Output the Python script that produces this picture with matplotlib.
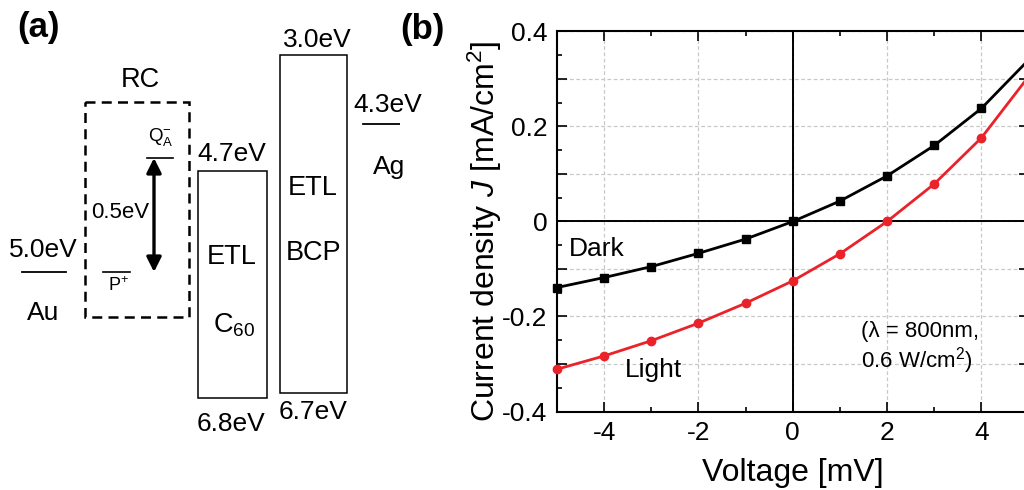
import numpy as np
import matplotlib
matplotlib.use('Agg')
import matplotlib.pyplot as plt
from matplotlib.patches import Rectangle
from matplotlib.ticker import MultipleLocator, FuncFormatter

plt.rcParams['font.family'] = ['Liberation Sans', 'DejaVu Sans']
plt.rcParams['mathtext.fontset'] = 'custom'
plt.rcParams['mathtext.rm'] = 'Liberation Sans'
plt.rcParams['mathtext.it'] = 'Liberation Sans:italic'
plt.rcParams['axes.unicode_minus'] = False

# ---- data: panel (b) J-V curves ----
voltage = [-5, -4, -3, -2, -1, 0, 1, 2, 3, 4, 5]
j_dark = [-0.139, -0.118, -0.095, -0.067, -0.037, 0.0, 0.043, 0.096, 0.160, 0.238, 0.340]
j_light = [-0.311, -0.283, -0.251, -0.214, -0.172, -0.125, -0.068, 0.0, 0.079, 0.176, 0.305]

# ---- data: panel (a) energy diagram labels ----
au_labels = ['5.0eV', 'Au']
ag_labels = ['4.3eV', 'Ag']
c60_labels = ['4.7eV', 'ETL', 'C$_{60}$', '6.8eV']
bcp_labels = ['3.0eV', 'ETL', 'BCP', '6.7eV']
rc_labels = ['RC', r'Q$_\mathrm{A}^{\mathrm{-}}$', r'P$^\mathrm{+}$', '0.5eV']

fig = plt.figure(figsize=(10.24, 4.9), dpi=100)

# ---------- (a) schematic, drawn in pixel units ----------
axa = fig.add_axes([0, 0, 400 / 1024, 1])
axa.set_xlim(0, 400)
axa.set_ylim(490, 0)
axa.axis('off')

fig.text(17 / 1024, 1 - 28 / 490, '(a)', fontsize=25, fontweight='bold', va='center', ha='left')

# Au electrode
axa.plot([22, 66], [272, 272], color='k', lw=1.3)
axa.text(43, 250, au_labels[0], fontsize=19, ha='center', va='center')
axa.text(43, 313, au_labels[1], fontsize=19, ha='center', va='center')

# reaction centre (dashed box)
axa.add_patch(Rectangle((85, 102), 104, 215, fill=False, ec='k', lw=1.8,
                        linestyle=(0, (4, 2.5))))
axa.text(140, 80, rc_labels[0], fontsize=19.5, ha='center', va='center')
axa.plot([147, 173], [158, 158], color='k', lw=1.2)
axa.text(161, 137, rc_labels[1], fontsize=13.5, ha='center', va='center')
axa.plot([103, 130], [272, 272], color='k', lw=1.2)
axa.text(118, 286, rc_labels[2], fontsize=13, ha='center', va='center')
axa.annotate('', xy=(154, 158), xytext=(154, 272),
             arrowprops=dict(arrowstyle='<|-|>', color='k', lw=2.4,
                             mutation_scale=22, shrinkA=0, shrinkB=0))
axa.text(120, 212, rc_labels[3], fontsize=16, ha='center', va='center')

# C60 ETL
axa.add_patch(Rectangle((198, 171), 69, 227, fill=False, ec='k', lw=1.1))
axa.text(232, 154, c60_labels[0], fontsize=19, ha='center', va='center')
axa.text(232, 257, c60_labels[1], fontsize=19.5, ha='center', va='center')
axa.text(234, 325, c60_labels[2], fontsize=19.5, ha='center', va='center')
axa.text(231, 424, c60_labels[3], fontsize=19, ha='center', va='center')

# BCP ETL
axa.add_patch(Rectangle((280, 55), 67, 338, fill=False, ec='k', lw=1.1))
axa.text(317, 40, bcp_labels[0], fontsize=19, ha='center', va='center')
axa.text(313, 188, bcp_labels[1], fontsize=19.5, ha='center', va='center')
axa.text(313, 253, bcp_labels[2], fontsize=19.5, ha='center', va='center')
axa.text(313, 412, bcp_labels[3], fontsize=19, ha='center', va='center')

# Ag electrode
axa.plot([363, 408], [124, 124], color='k', lw=1.3)
axa.text(388, 105, ag_labels[0], fontsize=19, ha='center', va='center')
axa.text(389, 167, ag_labels[1], fontsize=19, ha='center', va='center')

# ---------- (b) J-V curves ----------
ax = fig.add_axes([557 / 1024, 78.5 / 490, 471.5 / 1024, 380 / 490])
fig.text(400 / 1024, 1 - 29 / 490, '(b)', fontsize=25, fontweight='bold', va='center', ha='left')

ax.set_xlim(-5, 5)
ax.set_ylim(-0.4, 0.4)
ax.xaxis.set_major_locator(MultipleLocator(2))
ax.xaxis.set_minor_locator(MultipleLocator(1))
ax.yaxis.set_major_locator(MultipleLocator(0.1))
ax.yaxis.set_minor_locator(MultipleLocator(0.05))


def ylab(v, pos):
    k = int(round(v * 10))
    if k % 2:
        return ''
    return '0' if k == 0 else f'{v:.1f}'


ax.yaxis.set_major_formatter(FuncFormatter(ylab))
ax.xaxis.set_major_formatter(FuncFormatter(lambda v, p: f'{int(round(v))}'))
ax.tick_params(which='both', direction='in', top=True, right=True, width=1.2,
               labelsize=19, pad=7)
ax.tick_params(which='major', length=7)
ax.tick_params(which='minor', length=3.5)
for s in ax.spines.values():
    s.set_linewidth(1.5)

ax.grid(True, which='major', color='#c8c8c8', lw=0.9, linestyle=(0, (3, 2)))
ax.axhline(0, color='k', lw=1.4, zorder=2)
ax.axvline(0, color='k', lw=1.4, zorder=2)

ax.plot(voltage, j_dark, color='k', lw=2, marker='s', ms=5.5, zorder=3, clip_on=False)
ax.plot(voltage, j_light, color='#ea2229', lw=2, marker='o', ms=6, zorder=3, clip_on=False)

ax.text(-4.75, -0.058, 'Dark', fontsize=19, ha='left', va='center')
ax.text(-3.55, -0.312, 'Light', fontsize=19, ha='left', va='center')
ax.text(1.45, -0.267, '(λ = 800nm,\n0.6 W/cm$^2$)', fontsize=16, ha='left', va='center',
        linespacing=1.15)

ax.set_xlabel('Voltage [mV]', fontsize=23)
ax.set_ylabel('Current density $J$ [mA/cm$^2$]', fontsize=23)
ax.xaxis.label.set_va('center')
ax.yaxis.label.set_va('center')
ax.xaxis.set_label_coords(0.5, -0.162)
ax.yaxis.set_label_coords(-0.153, 0.475)

fig.savefig('out.png', dpi=100)
